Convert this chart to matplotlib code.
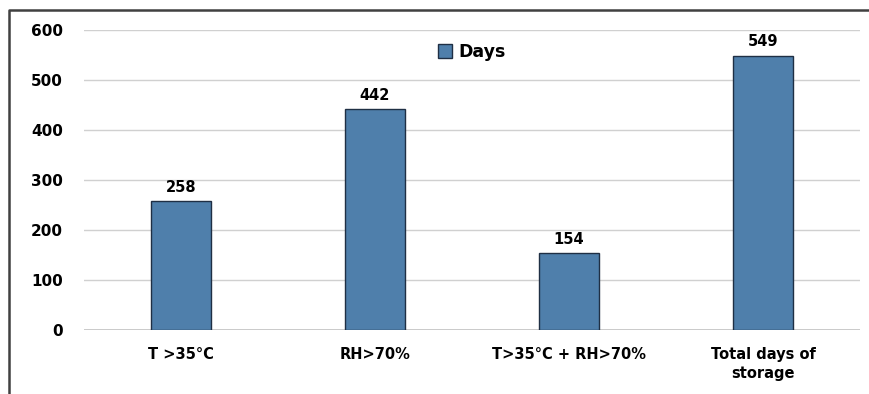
import matplotlib
matplotlib.use("Agg")
import matplotlib.pyplot as plt
from matplotlib.lines import Line2D
from matplotlib.patches import Patch
import numpy as np

categories = ["T >35°C", "RH>70%", "T>35°C + RH>70%", "Total days of\nstorage"]
days = [258, 442, 154, 549]
yticks = [0, 100, 200, 300, 400, 500, 600]

bar_color = "#4f7fab"
edge_color = "#1f2f44"

plt.rcParams["font.family"] = ["DejaVu Sans"]
plt.rcParams["font.weight"] = "bold"

fig = plt.figure(figsize=(8.69, 3.94), dpi=100)
ax = fig.add_axes([84 / 869, 1 - 330 / 394, (860 - 84) / 869, 300 / 394])

x = np.arange(len(categories))
ax.bar(x, days, width=0.31, color=bar_color, edgecolor=edge_color, linewidth=1.0, zorder=3)

for xi, v in zip(x, days):
    ax.text(xi, v + 13, str(v), ha="center", va="bottom", fontsize=10.5, fontweight="bold")

ax.set_xlim(-0.5, len(categories) - 0.5)
ax.set_ylim(0, 600)
ax.set_yticks(yticks)
ax.set_yticklabels([str(t) for t in yticks], fontsize=11, fontweight="bold")
ax.set_xticks(x)
ax.set_xticklabels(categories, fontsize=10.5, fontweight="bold", linespacing=1.4)
ax.tick_params(axis="both", length=0)
ax.tick_params(axis="y", pad=15)
ax.tick_params(axis="x", pad=12)
ax.yaxis.grid(True, color="#d0d0d0", linewidth=1.0, zorder=0)
ax.axhline(0, color="#c0c0c0", linewidth=1.2, zorder=1)
for s in ax.spines.values():
    s.set_visible(False)

ax.legend(handles=[Patch(facecolor=bar_color, edgecolor=edge_color, label="Days")],
          loc="center", bbox_to_anchor=(0.5, 1 - 22 / 300), frameon=False,
          prop={"size": 12.5, "weight": "bold"}, handlelength=0.8, handleheight=0.8, handletextpad=0.4)

# outer frame: left and top edges only (image is cropped on the other sides)
fig.add_artist(Line2D([9 / 869, 9 / 869, 1.0],
                      [0, 1 - 10 / 394, 1 - 10 / 394], color="#404040", linewidth=1.8))

fig.savefig("out.png", dpi=100)
